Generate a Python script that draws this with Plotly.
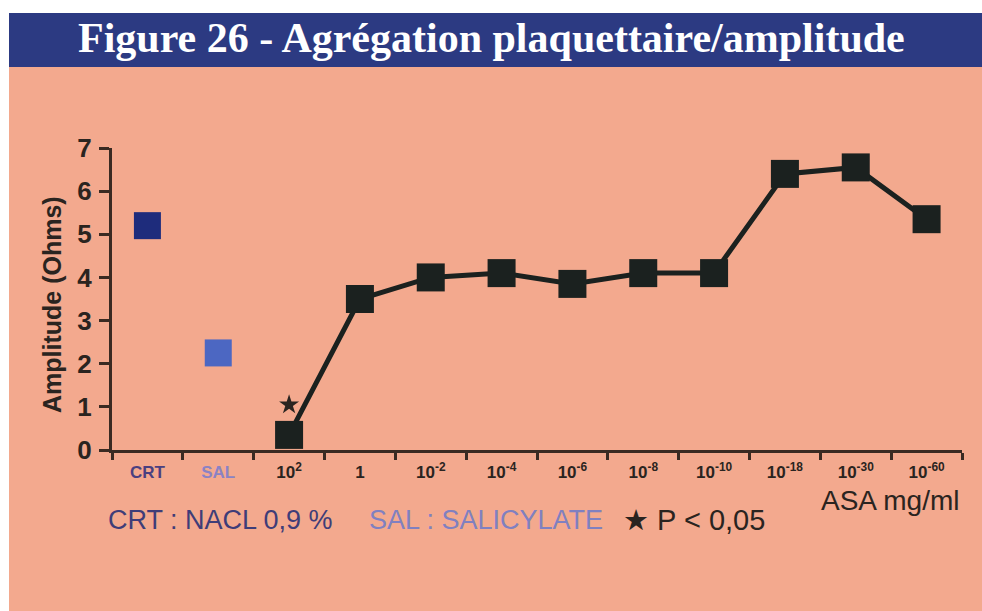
import plotly.graph_objects as go

# ---- data ----
categories = ["CRT", "SAL", "1e2", "1", "1e-2", "1e-4", "1e-6", "1e-8", "1e-10", "1e-18", "1e-30", "1e-60"]
tick_labels = ["CRT", "SAL", "10<sup>2</sup>", "1", "10<sup>-2</sup>", "10<sup>-4</sup>", "10<sup>-6</sup>",
               "10<sup>-8</sup>", "10<sup>-10</sup>", "10<sup>-18</sup>", "10<sup>-30</sup>", "10<sup>-60</sup>"]
crt_value = [5.2]
sal_value = [2.25]
asa_categories = categories[2:]
asa_values = [0.35, 3.5, 4.0, 4.1, 3.85, 4.1, 4.1, 6.4, 6.55, 5.35]
significant = ["1e2", "1e-18", "1e-30"]
star_offset = 0.7

# ---- style ----
SALMON = "#F3A98E"
NAVY = "#2C3A82"
DARK = "#1b211f"
AXIS = "#3a2a22"
TXT = "#2a2420"
FONT = "Liberation Sans Narrow, Liberation Sans, Arial"

W, H = 982, 611
L, R, T, B = 112, 20, 148, 161
PW, PH = W - L - R, H - T - B


def px(X):
    return (X - L) / PW


def py(Y):
    return (H - B - Y) / PH


fig = go.Figure()

fig.add_trace(go.Scatter(x=["CRT"], y=crt_value, mode="markers",
                         marker=dict(symbol="square", size=27, color="#1E2C7C"),
                         cliponaxis=False, showlegend=False))
fig.add_trace(go.Scatter(x=["SAL"], y=sal_value, mode="markers",
                         marker=dict(symbol="square", size=27, color="#4C67C2"),
                         cliponaxis=False, showlegend=False))
fig.add_trace(go.Scatter(x=asa_categories, y=asa_values, mode="lines+markers",
                         line=dict(color=DARK, width=5),
                         marker=dict(symbol="square", size=28, color=DARK),
                         cliponaxis=False, showlegend=False))

star_x = [c for c in asa_categories if c in significant]
star_y = [asa_values[asa_categories.index(c)] + star_offset for c in star_x]
fig.add_trace(go.Scatter(x=star_x, y=star_y, mode="markers",
                         marker=dict(symbol="star", size=15, color=TXT),
                         cliponaxis=False, showlegend=False))

tick_text = []
for c, t in zip(categories, tick_labels):
    if c == "CRT":
        tick_text.append('<span style="color:#4a4080">' + t + "</span>")
    elif c == "SAL":
        tick_text.append('<span style="color:#8a82c4">' + t + "</span>")
    else:
        tick_text.append(t)

fig.update_xaxes(type="category", categoryorder="array", categoryarray=categories,
                 tickmode="array", tickvals=categories, ticktext=tick_text,
                 tickson="boundaries", ticks="outside", ticklen=7, tickwidth=3, tickcolor=AXIS,
                 showline=True, linecolor=AXIS, linewidth=3, showgrid=False, zeroline=False,
                 range=[-0.5, 11.5], ticklabelstandoff=5,
                 tickfont=dict(family=FONT, size=17, color=TXT, weight="bold"))
fig.update_yaxes(range=[0, 7], tickvals=[0, 1, 2, 3, 4, 5, 6, 7], ticks="outside", ticklen=10,
                 tickwidth=3, tickcolor=AXIS, showline=True, linecolor=AXIS, linewidth=3,
                 showgrid=False, zeroline=False, ticklabelstandoff=2,
                 tickfont=dict(family=FONT, size=26, color=TXT, weight="bold"))

shapes = [
    dict(type="rect", xref="paper", yref="paper", x0=px(-5), x1=px(W + 5), y0=py(13), y1=py(-5),
         fillcolor="white", line=dict(width=0), layer="below"),
    dict(type="rect", xref="paper", yref="paper", x0=px(-5), x1=px(9), y0=py(H + 5), y1=py(-5),
         fillcolor="white", line=dict(width=0), layer="below"),
    dict(type="rect", xref="paper", yref="paper", x0=px(9), x1=px(W + 5), y0=py(67), y1=py(13),
         fillcolor=NAVY, line=dict(width=0), layer="below"),
]

annotations = [
    dict(text="<b>Figure 26 - Agrégation plaquettaire/amplitude</b>", xref="paper", yref="paper",
         x=px(491), y=py(38), xanchor="center", yanchor="middle", showarrow=False,
         font=dict(family="Liberation Serif, DejaVu Serif", size=42, color="white")),
    dict(text="<b>Amplitude (Ohms)</b>", xref="paper", yref="paper", x=px(52), y=py(305),
         xanchor="center", yanchor="middle", textangle=-90, showarrow=False,
         font=dict(family=FONT, size=25, color=TXT)),
    dict(text="ASA mg/ml", xref="paper", yref="paper", x=px(961), y=py(500),
         xanchor="right", yanchor="middle", showarrow=False,
         font=dict(family=FONT, size=28, color=TXT)),
    dict(text="CRT : NACL 0,9 %", xref="paper", yref="paper", x=px(106), y=py(520),
         xanchor="left", yanchor="middle", showarrow=False,
         font=dict(family=FONT, size=27, color="#3f3d78")),
    dict(text="SAL : SALICYLATE", xref="paper", yref="paper", x=px(367), y=py(520),
         xanchor="left", yanchor="middle", showarrow=False,
         font=dict(family=FONT, size=27, color="#8080c0")),
    dict(text="★ P < 0,05", xref="paper", yref="paper", x=px(621), y=py(520),
         xanchor="left", yanchor="middle", showarrow=False,
         font=dict(family=FONT, size=29, color=TXT)),
]

fig.update_layout(width=W, height=H, margin=dict(l=L, r=R, t=T, b=B),
                  paper_bgcolor=SALMON, plot_bgcolor="rgba(0,0,0,0)",
                  shapes=shapes, annotations=annotations, showlegend=False)

fig.write_html("out.html", config={"displayModeBar": False},
               post_script=("document.body.style.margin='0';document.body.style.overflow='hidden';"
                            "document.body.style.background='" + SALMON + "';"
                            "document.documentElement.style.background='" + SALMON + "';"))
